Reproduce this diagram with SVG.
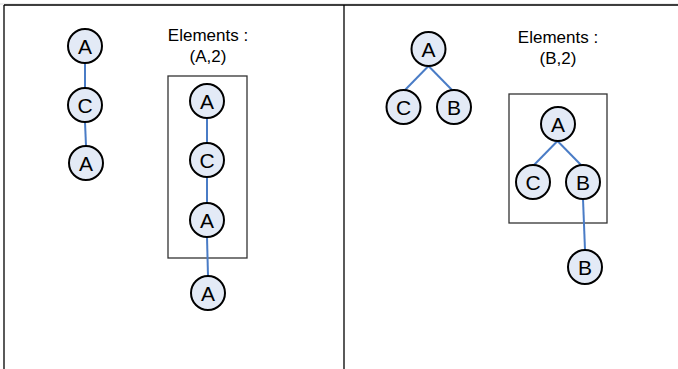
<svg xmlns="http://www.w3.org/2000/svg" width="678" height="369" viewBox="0 0 678 369">
<style>
.n circle{fill:#e3eaf6;stroke:#000;stroke-width:2}
.n text{font-family:"Liberation Sans",Arial,sans-serif;font-size:21px;text-anchor:middle;fill:#000}
.e line{stroke:#4a7cc6;stroke-width:2}
.lbl{font-family:"Liberation Sans",Arial,sans-serif;font-size:17px;text-anchor:middle;fill:#000}
.box{fill:none;stroke:#333;stroke-width:1.3}
.frame{stroke:#000;stroke-width:1.3;fill:none}
</style>
<rect width="678" height="369" fill="#fff"/>
<line x1="0" y1="4" x2="678" y2="4" stroke="#ddd" stroke-width="1"/>
<g id="frame">
<line class="frame" x1="4" y1="5" x2="678" y2="5"/>
<line class="frame" x1="4" y1="5" x2="4" y2="369"/>
<line class="frame" x1="344" y1="5" x2="344" y2="369"/>
</g>
<g id="labels">
<text class="lbl" x="208" y="41">Elements :</text>
<text class="lbl" x="208" y="62">(A,2)</text>
<text class="lbl" x="558" y="43">Elements :</text>
<text class="lbl" x="558" y="64">(B,2)</text>
</g>
<rect id="box1" class="box" x="168" y="76" width="79" height="182"/>
<rect id="box2" class="box" x="509" y="94" width="98" height="129"/>
<g id="connectors" class="e">
<line x1="85" y1="63" x2="85" y2="88"/>
<line x1="85" y1="122" x2="86" y2="146"/>
<line x1="207" y1="118" x2="207" y2="143"/>
<line x1="207" y1="177" x2="207" y2="203"/>
<line x1="207" y1="237" x2="208" y2="276"/>
<line x1="428.5" y1="66" x2="404" y2="91"/>
<line x1="428.5" y1="66" x2="453" y2="91"/>
<line x1="557.5" y1="141" x2="533" y2="166"/>
<line x1="557.5" y1="141" x2="582" y2="166"/>
<line x1="583" y1="199" x2="585" y2="250"/>
</g>
<g id="n1" class="n"><circle cx="85" cy="46" r="17"/><text x="85" y="53.5">A</text></g>
<g id="n2" class="n"><circle cx="85" cy="105" r="17"/><text x="85" y="112.5">C</text></g>
<g id="n3" class="n"><circle cx="86" cy="163" r="17"/><text x="86" y="170.5">A</text></g>
<g id="n4" class="n"><circle cx="207" cy="101" r="17"/><text x="207" y="108.5">A</text></g>
<g id="n5" class="n"><circle cx="207" cy="160" r="17"/><text x="207" y="167.5">C</text></g>
<g id="n6" class="n"><circle cx="207" cy="220" r="17"/><text x="207" y="227.5">A</text></g>
<g id="n7" class="n"><circle cx="208" cy="293" r="17"/><text x="208" y="300.5">A</text></g>
<g id="n8" class="n"><circle cx="428.5" cy="49" r="17"/><text x="428.5" y="56.5">A</text></g>
<g id="n9" class="n"><circle cx="403.5" cy="107" r="17"/><text x="403.5" y="114.5">C</text></g>
<g id="n10" class="n"><circle cx="454" cy="107" r="17"/><text x="454" y="114.5">B</text></g>
<g id="n11" class="n"><circle cx="558" cy="124" r="17"/><text x="558" y="131.5">A</text></g>
<g id="n12" class="n"><circle cx="533" cy="182" r="17"/><text x="533" y="189.5">C</text></g>
<g id="n13" class="n"><circle cx="583" cy="182" r="17"/><text x="583" y="189.5">B</text></g>
<g id="n14" class="n"><circle cx="585" cy="267" r="17"/><text x="585" y="274.5">B</text></g>
</svg>
